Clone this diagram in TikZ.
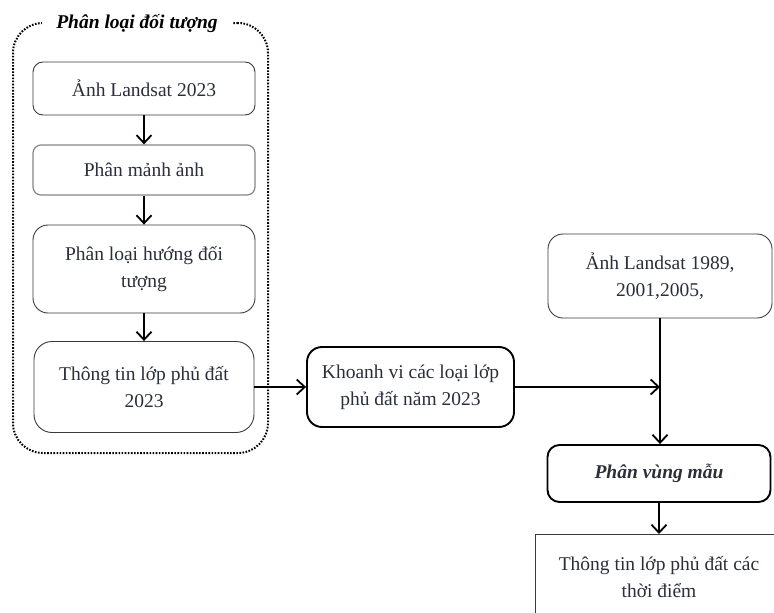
\documentclass[tikz,border=0pt]{standalone}
\usepackage{fontspec}
\setmainfont{Liberation Serif}
\usetikzlibrary{arrows.meta}
\definecolor{boxline}{HTML}{3A3A3A}
\definecolor{boxgray}{HTML}{858585}
\definecolor{inktext}{HTML}{2B2F3A}
\tikzset{
  pbox/.style={draw=boxline,line width=0.9pt,rounded corners=#1,align=center,text=inktext,font=\fontsize{19.5}{27}\selectfont,inner sep=2pt},
  pbox/.default=12pt,
  kbox/.style={pbox=#1,draw=black,line width=1.9pt},
  kbox/.default=14pt,
  grp/.style={draw=black,line width=2pt,dash pattern=on 1.6pt off 1.5pt,rounded corners=30pt},
  grptitle/.style={fill=white,font=\fontsize{19.5}{24}\selectfont\bfseries\itshape,inner xsep=14pt,inner ysep=1pt},
  flow/.style={line width=1.8pt,-{Straight Barb[length=8pt,width=15pt]}}
}

\begin{document}
\begin{tikzpicture}[x=1pt,y=-1pt]
\useasboundingbox (0,0) rectangle (774,613);
% nhom phan loai doi tuong
\node[grp,minimum width=255pt,minimum height=430pt] (grp) at (140.5,238){};
\node[grptitle] (grpt) at (137,24){Phân loại đối tượng};
\node[pbox=10pt,minimum width=222pt,minimum height=53pt] (ls23) at (144,88.5){Ảnh Landsat 2023};
\node[pbox=8pt,draw=boxgray,line width=1.2pt,minimum width=222pt,minimum height=50pt] (seg) at (144,170){Phân mảnh ảnh};
\node[pbox=15pt,minimum width=222pt,minimum height=88pt] (obj) at (144,269){Phân loại hướng đối\\tượng};
\node[pbox=18pt,minimum width=220pt,minimum height=91pt] (lc23) at (144,387){Thông tin lớp phủ đất\\2023};
% nhanh ben phai
\node[kbox=15pt,minimum width=207pt,minimum height=80pt] (zone) at (410.5,387){Khoanh vi các loại lớp\\phủ đất năm 2023};
\node[pbox=15pt,minimum width=224pt,minimum height=84pt] (lsold) at (660,276){Ảnh Landsat 1989,\\2001,2005,};
\node[kbox=12pt,minimum width=223pt,minimum height=57pt,font=\fontsize{19.5}{24}\selectfont\bfseries\itshape] (smp) at (659,473.5){Phân vùng mẫu};
\node[pbox=0pt,minimum width=248pt,minimum height=85pt,anchor=north] (fin) at (659,534){Thông tin lớp phủ đất các\\thời điểm};
\coordinate (join) at (lsold.south |- zone.east);

\foreach \a/\b in {ls23/seg,seg/obj,obj/lc23}{\draw[flow] (\a) -- (\b);}
\draw[flow] (lc23.east) -- (zone.west);
\draw[flow] (zone.east) -- (join);
\draw[line width=1.8pt] (lsold.south) -- (join);
\draw[flow] (join) -- (join |- smp.north);
\draw[flow] (smp.south) -- (smp.south |- fin.north);
\end{tikzpicture}
\end{document}
